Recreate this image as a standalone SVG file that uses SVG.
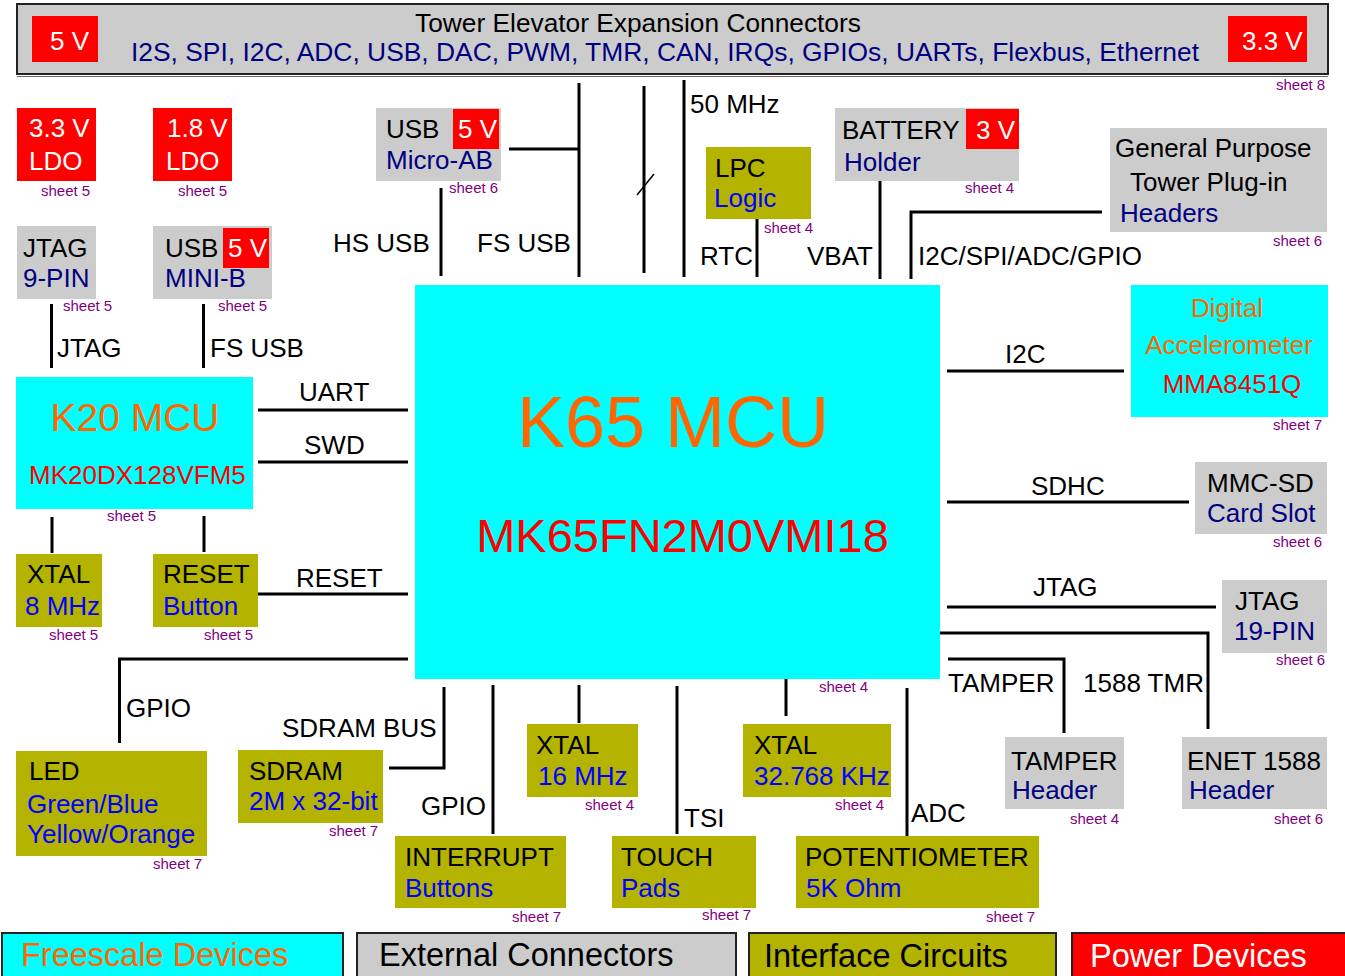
<svg xmlns="http://www.w3.org/2000/svg" width="1345" height="976" viewBox="0 0 1345 976">
<style>
text{font-family:"Liberation Sans",Arial,Helvetica,sans-serif;font-size:26px;fill:#000}
.nv{fill:#000080}
.bl{fill:#0000ff}
.w{fill:#fff}
.sh{font-size:15px;fill:#800080}
.cy{fill:#00ffff}
.gy{fill:#cccccc}
.ol{fill:#b3b300}
.rd{fill:#ff0000}
.or{fill:#ff6600}
.red{fill:#ff0000}
.ln{stroke:#000;stroke-width:3;fill:none}
.lg{stroke:#222;stroke-width:2}
.lt{font-size:32.5px}
</style>
<rect x="0" y="0" width="1345" height="976" fill="#fff"/>

<g id="tower-elevator">
<rect x="17" y="4" width="1311" height="70" class="gy" stroke="#222" stroke-width="2"/>
<line x1="17" y1="76.5" x2="1328" y2="76.5" stroke="#666" stroke-width="1"/>
<rect x="32" y="16" width="66" height="46" class="rd"/>
<text x="50" y="50" class="w">5 V</text>
<rect x="1228" y="16" width="79" height="46" class="rd"/>
<text x="1242" y="50" class="w">3.3 V</text>
<text x="638" y="32" text-anchor="middle" style="font-size:26.3px">Tower Elevator Expansion Connectors</text>
<text x="665" y="61" text-anchor="middle" class="nv" style="font-size:26.4px">I2S, SPI, I2C, ADC, USB, DAC, PWM, TMR, CAN, IRQs, GPIOs, UARTs, Flexbus, Ethernet</text>
<text x="1276" y="90" class="sh">sheet 8</text>
</g>

<g id="ldo-33">
<rect x="17" y="108" width="79" height="73" class="rd"/>
<text x="29" y="137" class="w">3.3 V</text>
<text x="29" y="170" class="w">LDO</text>
<text x="41" y="196" class="sh">sheet 5</text>
</g>
<g id="ldo-18">
<rect x="153" y="108" width="79" height="73" class="rd"/>
<text x="167" y="137" class="w">1.8 V</text>
<text x="166" y="170" class="w">LDO</text>
<text x="178" y="196" class="sh">sheet 5</text>
</g>
<g id="jtag-9pin">
<rect x="17" y="226" width="79" height="73" class="gy"/>
<text x="23" y="257">JTAG</text>
<text x="23" y="287" class="nv">9-PIN</text>
<text x="63" y="311" class="sh">sheet 5</text>
</g>
<g id="usb-minib">
<rect x="153" y="226" width="119" height="73" class="gy"/>
<rect x="223" y="228" width="46" height="40" class="rd"/>
<text x="165" y="257">USB</text>
<text x="228" y="257" class="w">5 V</text>
<text x="165" y="287" class="nv">MINI-B</text>
<text x="218" y="311" class="sh">sheet 5</text>
</g>
<g id="usb-microab">
<rect x="376" y="108" width="125" height="73" class="gy"/>
<rect x="453" y="109" width="46" height="40" class="rd"/>
<text x="386" y="138">USB</text>
<text x="458" y="138" class="w">5 V</text>
<text x="386" y="169" class="nv">Micro-AB</text>
<text x="449" y="193" class="sh">sheet 6</text>
</g>
<g id="lpc-logic">
<rect x="706" y="147" width="105" height="72" class="ol"/>
<text x="715" y="177">LPC</text>
<text x="714" y="207" class="bl">Logic</text>
<text x="764" y="233" class="sh">sheet 4</text>
</g>
<g id="battery">
<rect x="835" y="108" width="184" height="73" class="gy"/>
<rect x="966" y="109" width="53" height="40" class="rd"/>
<text x="842" y="139">BATTERY</text>
<text x="976" y="139" class="w">3 V</text>
<text x="844" y="171" class="nv">Holder</text>
<text x="965" y="193" class="sh">sheet 4</text>
</g>
<g id="gp-headers">
<rect x="1110" y="128" width="217" height="104" class="gy"/>
<text x="1115" y="157">General Purpose</text>
<text x="1130" y="191">Tower Plug-in</text>
<text x="1120" y="222" class="nv">Headers</text>
<text x="1273" y="246" class="sh">sheet 6</text>
</g>
<g id="k20-mcu">
<rect x="16" y="377" width="237" height="132" class="cy"/>
<text x="135" y="431" text-anchor="middle" class="or" style="font-size:39px">K20 MCU</text>
<text x="29" y="484" class="red">MK20DX128VFM5</text>
<text x="107" y="521" class="sh">sheet 5</text>
</g>
<g id="xtal-8mhz">
<rect x="16" y="554" width="86" height="73" class="ol"/>
<text x="27" y="583">XTAL</text>
<text x="25" y="615" class="bl">8 MHz</text>
<text x="49" y="640" class="sh">sheet 5</text>
</g>
<g id="reset-button">
<rect x="153" y="554" width="105" height="73" class="ol"/>
<text x="163" y="583">RESET</text>
<text x="163" y="615" class="bl">Button</text>
<text x="204" y="640" class="sh">sheet 5</text>
</g>
<g id="k65-mcu">
<rect x="415" y="285" width="525" height="394" class="cy"/>
<text x="673" y="447" text-anchor="middle" class="or" style="font-size:72px">K65 MCU</text>
<text x="682.5" y="552" text-anchor="middle" class="red" style="font-size:47px">MK65FN2M0VMI18</text>
<text x="819" y="692" class="sh">sheet 4</text>
</g>
<g id="accelerometer">
<rect x="1131" y="285" width="197" height="132" class="cy"/>
<text x="1227" y="317" text-anchor="middle" class="or">Digital</text>
<text x="1229" y="354" text-anchor="middle" class="or">Accelerometer</text>
<text x="1232" y="393" text-anchor="middle" class="red">MMA8451Q</text>
<text x="1273" y="430" class="sh">sheet 7</text>
</g>
<g id="mmc-sd">
<rect x="1195" y="462" width="132" height="72" class="gy"/>
<text x="1207" y="492">MMC-SD</text>
<text x="1207" y="522" class="nv">Card Slot</text>
<text x="1273" y="547" class="sh">sheet 6</text>
</g>
<g id="jtag-19pin">
<rect x="1222" y="580" width="105" height="73" class="gy"/>
<text x="1235" y="610">JTAG</text>
<text x="1234" y="640" class="nv">19-PIN</text>
<text x="1276" y="665" class="sh">sheet 6</text>
</g>
<g id="tamper-header">
<rect x="1005" y="737" width="119" height="72" class="gy"/>
<text x="1011" y="770">TAMPER</text>
<text x="1012" y="799" class="nv">Header</text>
<text x="1070" y="824" class="sh">sheet 4</text>
</g>
<g id="enet-header">
<rect x="1182" y="737" width="145" height="72" class="gy"/>
<text x="1187" y="770">ENET 1588</text>
<text x="1189" y="799" class="nv">Header</text>
<text x="1274" y="824" class="sh">sheet 6</text>
</g>
<g id="led">
<rect x="16" y="751" width="191" height="105" class="ol"/>
<text x="29" y="780">LED</text>
<text x="27" y="813" class="bl">Green/Blue</text>
<text x="27" y="843" class="bl">Yellow/Orange</text>
<text x="153" y="869" class="sh">sheet 7</text>
</g>
<g id="sdram">
<rect x="238" y="750" width="145" height="73" class="ol"/>
<text x="249" y="780">SDRAM</text>
<text x="249" y="810" class="bl">2M x 32-bit</text>
<text x="329" y="836" class="sh">sheet 7</text>
</g>
<g id="xtal-16mhz">
<rect x="527" y="724" width="111" height="73" class="ol"/>
<text x="536" y="754">XTAL</text>
<text x="538" y="785" class="bl">16 MHz</text>
<text x="585" y="810" class="sh">sheet 4</text>
</g>
<g id="xtal-32khz">
<rect x="743" y="724" width="148" height="73" class="ol"/>
<text x="754" y="754">XTAL</text>
<text x="754" y="785" class="bl">32.768 KHz</text>
<text x="835" y="810" class="sh">sheet 4</text>
</g>
<g id="interrupt-buttons">
<rect x="395" y="836" width="171" height="72" class="ol"/>
<text x="405" y="866">INTERRUPT</text>
<text x="405" y="897" class="bl">Buttons</text>
<text x="512" y="922" class="sh">sheet 7</text>
</g>
<g id="touch-pads">
<rect x="612" y="836" width="144" height="72" class="ol"/>
<text x="621" y="866">TOUCH</text>
<text x="621" y="897" class="bl">Pads</text>
<text x="702" y="920" class="sh">sheet 7</text>
</g>
<g id="potentiometer">
<rect x="796" y="836" width="243" height="72" class="ol"/>
<text x="805" y="866">POTENTIOMETER</text>
<text x="806" y="897" class="bl">5K Ohm</text>
<text x="986" y="922" class="sh">sheet 7</text>
</g>

<g id="legend">
<rect x="2" y="933" width="341" height="46" class="cy lg"/>
<text x="21" y="966" class="or lt">Freescale Devices</text>
<rect x="357" y="933" width="379" height="46" class="gy lg"/>
<text x="379" y="966" class="lt">External Connectors</text>
<rect x="749" y="933" width="307" height="46" class="ol lg"/>
<text x="764" y="967" class="lt">Interface Circuits</text>
<rect x="1072" y="933" width="275" height="46" class="rd lg"/>
<text x="1090" y="967" class="w lt">Power Devices</text>
</g>

<g id="connectors">
<path class="ln" d="M51.5,304 V368"/>
<path class="ln" d="M203.5,304 V368"/>
<path class="ln" d="M258,410 H408"/>
<path class="ln" d="M258,462 H408"/>
<path class="ln" d="M52,517 V553"/>
<path class="ln" d="M204,516 V552"/>
<path class="ln" d="M258,594 H408"/>
<path class="ln" d="M441,188 V276"/>
<path class="ln" d="M509,149 H579"/>
<path class="ln" d="M579,83 V277"/>
<path class="ln" d="M644,86 V273"/>
<path d="M637,195 L654,174" stroke="#000" stroke-width="1.5" fill="none"/>
<path class="ln" d="M684,80 V277"/>
<path class="ln" d="M757,219 V277"/>
<path class="ln" d="M880,181 V279"/>
<path class="ln" d="M1102,212 H911 V279"/>
<path class="ln" d="M947,371 H1124"/>
<path class="ln" d="M947,502 H1189"/>
<path class="ln" d="M947,607 H1216"/>
<path class="ln" d="M940,633 H1208 V729"/>
<path class="ln" d="M948,659 H1064 V733"/>
<path class="ln" d="M408,659 H119.5 V743"/>
<path class="ln" d="M444,687 V768 H389"/>
<path class="ln" d="M493,685 V834"/>
<path class="ln" d="M579,685 V723"/>
<path class="ln" d="M677,686 V834"/>
<path class="ln" d="M786,679 V716"/>
<path class="ln" d="M907,688 V836"/>
<text x="57" y="357">JTAG</text>
<text x="210" y="357">FS USB</text>
<text x="299" y="401">UART</text>
<text x="304" y="454">SWD</text>
<text x="296" y="587">RESET</text>
<text x="333" y="252">HS USB</text>
<text x="477" y="252">FS USB</text>
<text x="690" y="113">50 MHz</text>
<text x="700" y="265">RTC</text>
<text x="807" y="265">VBAT</text>
<text x="918" y="265">I2C/SPI/ADC/GPIO</text>
<text x="1005" y="363">I2C</text>
<text x="1031" y="495">SDHC</text>
<text x="1033" y="596">JTAG</text>
<text x="1083" y="692">1588 TMR</text>
<text x="948" y="692">TAMPER</text>
<text x="126" y="717">GPIO</text>
<text x="282" y="737">SDRAM BUS</text>
<text x="421" y="815">GPIO</text>
<text x="684" y="827">TSI</text>
<text x="911" y="822">ADC</text>
</g>
</svg>
